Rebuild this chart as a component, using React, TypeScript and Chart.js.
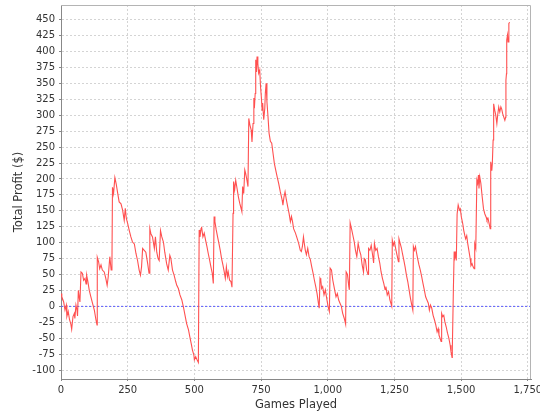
import React, { useEffect, useRef } from "react";
import { Chart, registerables } from "chart.js";

Chart.register(...registerables);

const GAMES = [
  0, 3, 10, 15, 20, 22, 27, 32, 37, 40, 45, 50, 52, 56, 60, 62, 65, 69, 71, 75,
  80, 85, 90, 94, 96, 100, 106, 112, 118, 125, 131, 135, 136, 141, 145, 150, 155, 162, 168, 173,
  177, 183, 188, 191, 193, 197, 202, 207, 212, 218, 225, 231, 237, 241, 245, 250, 256, 262, 268, 275,
  281, 287, 293, 298, 302, 306, 312, 318, 325, 330, 333, 337, 343, 350, 354, 359, 364, 368, 373, 378,
  384, 389, 396, 402, 408, 412, 418, 424, 430, 434, 440, 446, 453, 459, 465, 471, 478, 483, 488, 493,
  498, 500, 505, 510, 515, 518, 521, 525, 527, 532, 537, 542, 547, 552, 557, 562, 567, 571, 574, 577,
  582, 587, 592, 597, 602, 607, 612, 616, 620, 624, 627, 632, 637, 641, 645, 647, 651, 655, 660, 665,
  670, 675, 678, 681, 685, 689, 692, 697, 701, 704, 708, 713, 716, 720, 723, 725, 728, 730, 733, 735,
  738, 741, 745, 748, 751, 754, 756, 760, 764, 766, 769, 772, 776, 780, 785, 790, 795, 800, 805, 810,
  816, 822, 829, 832, 836, 840, 845, 850, 855, 860, 864, 868, 872, 879, 885, 891, 897, 901, 905, 909,
  912, 916, 920, 925, 930, 935, 940, 945, 950, 955, 960, 965, 968, 971, 974, 977, 981, 986, 991, 996,
  1001, 1006, 1009, 1014, 1019, 1025, 1031, 1036, 1041, 1046, 1051, 1056, 1062, 1067, 1069, 1074, 1079, 1081, 1084, 1089,
  1094, 1099, 1104, 1109, 1114, 1119, 1124, 1129, 1134, 1137, 1141, 1146, 1151, 1153, 1158, 1163, 1168, 1172, 1175, 1180,
  1185, 1190, 1195, 1200, 1205, 1210, 1215, 1218, 1223, 1228, 1233, 1240, 1242, 1246, 1250, 1256, 1261, 1265, 1267, 1272,
  1276, 1280, 1285, 1290, 1295, 1300, 1305, 1310, 1315, 1319, 1321, 1325, 1329, 1332, 1337, 1342, 1347, 1352, 1357, 1362,
  1367, 1372, 1377, 1381, 1385, 1390, 1395, 1400, 1405, 1410, 1414, 1417, 1421, 1425, 1427, 1431, 1435, 1439, 1444, 1449,
  1454, 1459, 1462, 1466, 1467, 1471, 1474, 1477, 1479, 1482, 1485, 1489, 1494, 1497, 1501, 1506, 1510, 1514, 1517, 1521,
  1525, 1529, 1534, 1537, 1541, 1545, 1549, 1551, 1555, 1559, 1562, 1565, 1567, 1570, 1574, 1579, 1584, 1589, 1594, 1597,
  1601, 1605, 1609, 1611, 1615, 1617, 1620, 1622, 1626, 1630, 1634, 1637, 1641, 1645, 1649, 1652, 1656, 1660, 1664, 1667,
  1668, 1670, 1671, 1674, 1676, 1679, 1682,
];

const PROFIT = [
  20, 15, 7, -6, 2, -16, -8, -21, -28, -36, -16, -11, -19, 2, -6, -15, 25, 12, 7, 54,
  52, 41, 44, 35, 49, 41, 25, 15, 5, -6, -21, -29, 77, 70, 59, 65, 57, 54, 44, 33,
  46, 78, 57, 65, 187, 177, 202, 192, 179, 164, 161, 151, 135, 154, 138, 130, 119, 109, 101, 98,
  83, 72, 57, 49, 62, 91, 88, 85, 67, 52, 122, 114, 109, 91, 109, 85, 75, 72, 119, 109,
  101, 85, 67, 57, 80, 75, 57, 49, 39, 33, 28, 18, 10, -1, -14, -27, -37, -48, -58, -69,
  -76, -84, -79, -84, -88, 120, 109, 122, 125, 109, 115, 104, 94, 83, 73, 62, 52, 36, 141, 133,
  120, 109, 99, 88, 75, 65, 54, 44, 62, 47, 54, 41, 39, 30, 146, 196, 183, 198, 185, 172,
  162, 154, 149, 188, 177, 214, 209, 198, 188, 295, 285, 277, 258, 287, 327, 311, 334, 387, 368, 392,
  381, 366, 371, 345, 329, 308, 319, 293, 311, 334, 350, 321, 298, 272, 259, 256, 240, 224, 214, 204,
  193, 180, 167, 159, 172, 180, 167, 156, 146, 133, 141, 133, 122, 115, 107, 99, 88, 86, 94, 109,
  99, 88, 81, 91, 78, 73, 62, 52, 41, 31, 20, 5, -3, 44, 41, 28, 31, 18, 26, 13,
  0, -8, 60, 57, 41, 28, 15, 20, 10, 5, 0, -11, -19, -28, 54, 50, 31, 26, 131, 122,
  112, 102, 88, 78, 99, 88, 81, 65, 54, 75, 73, 57, 50, 91, 88, 96, 81, 68, 99, 88,
  91, 78, 68, 54, 44, 36, 26, 31, 18, 23, 10, 0, 104, 96, 101, 88, 78, 70, 106, 98,
  92, 83, 73, 62, 49, 39, 26, 13, 2, -6, 94, 88, 94, 86, 75, 65, 57, 47, 36, 26,
  15, 10, 5, -6, 2, -3, -14, -21, -29, -40, -35, -45, -50, -55, -11, -16, -14, -24, -32, -42,
  -50, -61, -71, -80, -69, 26, 86, 78, 82, 72, 145, 159, 151, 153, 140, 130, 119, 111, 106, 111,
  98, 88, 75, 64, 67, 62, 59, 98, 91, 198, 193, 206, 185, 203, 193, 172, 153, 145, 140, 135,
  138, 130, 122, 227, 213, 224, 261, 318, 308, 300, 287, 300, 313, 305, 313, 310, 302, 297, 292, 297,
  355, 365, 418, 426, 415, 444, 446,
];

const ZERO_LINE_GAMES = [0, 1762];
const ZERO_LINE_PROFIT = [0, 0];

const X_TICKS = [0, 250, 500, 750, 1000, 1250, 1500, 1750];
const Y_TICKS = [
  -100, -75, -50, -25, 0, 25, 50, 75, 100, 125, 150, 175, 200, 225, 250, 275, 300, 325, 350, 375, 400, 425, 450,
];

const X_MIN = 0;
const X_MAX = 1762;
const Y_MIN = -114;
const Y_MAX = 473;

const X_TITLE = "Games Played";
const Y_TITLE = "Total Profit ($)";

export default function App() {
  const ref = useRef<HTMLCanvasElement>(null);

  useEffect(() => {
    if (!ref.current) return;

    const outline = {
      id: "outline",
      afterDraw(chart: any) {
        const { ctx, chartArea } = chart;
        const { left, top, right, bottom } = chartArea;
        ctx.save();
        ctx.strokeStyle = "#b4b4b4";
        ctx.lineWidth = 1;
        ctx.beginPath();
        ctx.moveTo(left, Math.round(top) + 0.5);
        ctx.lineTo(Math.round(right) - 0.5, Math.round(top) + 0.5);
        ctx.lineTo(Math.round(right) - 0.5, bottom);
        ctx.stroke();
        ctx.restore();
      },
    };

    const zeroPads = (s: any) => {
      s.paddingTop = 0;
      s.paddingBottom = 0;
      s.paddingLeft = 0;
      s.paddingRight = 0;
    };

    const tickFont = { family: "'DejaVu Sans', sans-serif", size: 10 };
    const titleFont = { family: "'DejaVu Sans', sans-serif", size: 11.5 };

    const chart = new Chart(ref.current, {
      type: "line",
      data: {
        datasets: [
          {
            label: "Total Profit",
            data: GAMES.map((g, i) => ({ x: g, y: PROFIT[i] })),
            borderColor: "rgb(255,80,80)",
            borderWidth: 1.1,
            pointRadius: 0,
            tension: 0,
            fill: false,
          },
          {
            label: "Zero",
            data: ZERO_LINE_GAMES.map((g, i) => ({ x: g, y: ZERO_LINE_PROFIT[i] })),
            borderColor: "rgb(90,90,255)",
            borderWidth: 1,
            borderDash: [2, 2],
            pointRadius: 0,
            fill: false,
          },
        ],
      },
      options: {
        animation: false,
        responsive: false,
        maintainAspectRatio: false,
        layout: { padding: { top: 5, right: 9, left: 0, bottom: 0 } },
        plugins: {
          legend: { display: false },
          tooltip: { enabled: false },
        },
        scales: {
          x: {
            type: "linear",
            min: X_MIN,
            max: X_MAX,
            afterBuildTicks: (s: any) => {
              s.ticks = X_TICKS.map((v) => ({ value: v }));
            },
            afterFit: (s: any) => {
              s.height = 41;
              zeroPads(s);
            },
            ticks: {
              autoSkip: false,
              maxRotation: 0,
              padding: 3,
              color: "#333",
              font: tickFont,
            },
            grid: {
              color: "#d4d4d4",
              lineWidth: 1,
              drawTicks: true,
              tickLength: 2,
              tickColor: "#888",
              tickBorderDash: [],
            },
            border: { display: true, color: "#888", width: 1, dash: [2, 2] },
            title: {
              display: true,
              text: X_TITLE,
              color: "#333",
              font: titleFont,
              padding: { top: 0, bottom: 8 },
            },
          },
          y: {
            type: "linear",
            min: Y_MIN,
            max: Y_MAX,
            afterBuildTicks: (s: any) => {
              s.ticks = Y_TICKS.map((v) => ({ value: v }));
            },
            afterFit: (s: any) => {
              s.width = 61;
              zeroPads(s);
            },
            ticks: {
              autoSkip: false,
              padding: 4,
              color: "#333",
              font: tickFont,
            },
            grid: {
              color: "#d4d4d4",
              lineWidth: 1,
              drawTicks: true,
              tickLength: 2,
              tickColor: "#888",
              tickBorderDash: [],
            },
            border: { display: true, color: "#888", width: 1, dash: [2, 2] },
            title: {
              display: true,
              text: Y_TITLE,
              color: "#333",
              font: titleFont,
              padding: { top: 12, bottom: 0 },
            },
          },
        },
      },
      plugins: [outline],
    });

    return () => chart.destroy();
  }, []);

  return (
    <div style={{ position: "absolute", left: 0, top: 0, width: 540, height: 420, background: "#fff" }}>
      <canvas ref={ref} width={540} height={420} style={{ display: "block" }} />
    </div>
  );
}
